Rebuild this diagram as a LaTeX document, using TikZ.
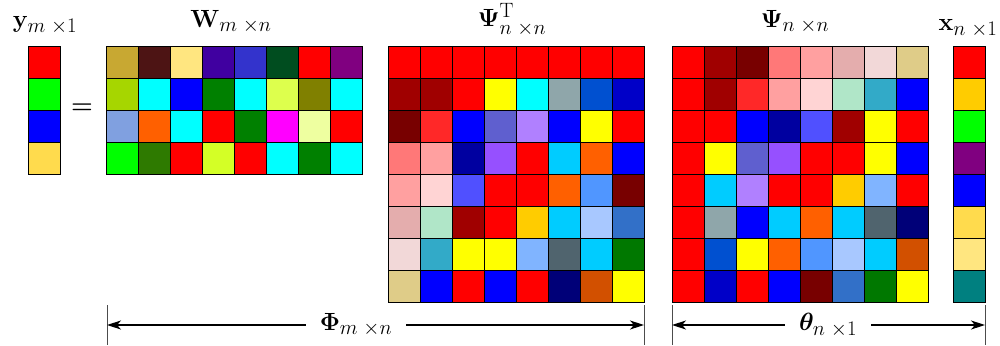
\documentclass[tikz,border=0pt]{standalone}
\usepackage{amsmath}
\usepackage{amsfonts, amssymb}
\usepackage{bm}
\usepackage{tikz}
\usetikzlibrary{arrows.meta, calc}

\tikzset{
  cell/.style={draw=black, line width=0.9pt},
  lbl/.style={font=\Huge, anchor=base, inner sep=0pt},
  dimarrow/.style={-{Stealth[length=14pt, width=9pt, inset=4pt]}, line width=1.1pt},
  tick/.style={line width=0.8pt, black!70}
}

% fill a cell with a hex colour
\newcommand{\hexcell}[3]{%
  \edef\tmpdef{\noexpand\definecolor{cellc}{HTML}{#3}}\tmpdef
  \filldraw[cell, fill=cellc] (#1,#2) rectangle ++(32,32);
}

\begin{document}
\begin{tikzpicture}[x=1pt, y=-1pt]
    \useasboundingbox (0,0) rectangle (1000,345);

    % Measurement vector y
    \foreach \c [count=\i from 0] in {FF0000,00FF00,0000FF,FFDB4D} {
      \hexcell{28}{46+32*\i}{\c}
    }
    \node[lbl] (ylab) at (45,28) {$\mathbf{y}_{m\;\times 1}$};

    % Equals sign
    \node[font=\Huge] (eq) at (82,109) {$\bm{=}$};

    % Sensing matrix W
    \foreach \row [count=\i from 0] in {
      {C8A832,4D1414,FFE680,4000A0,3333CC,004D1F,FF0000,800080},
      {A6D600,00FFFF,0000FF,008000,00FFFF,DDFF4D,808000,00FFFF},
      {80A0E0,FF6000,00FFFF,FF0000,008000,FF00FF,EEFFA0,FF0000},
      {00FF00,2E7A00,FF0000,D4FF26,FF0000,00FFFF,008000,00FFFF}} {
      \foreach \c [count=\j from 0] in \row {
        \hexcell{106+32*\j}{46+32*\i}{\c}
      }
    }
    \node[lbl] (wlab) at (231,28) {$\mathbf{W}_{m\;\times n}$};

    % Basis Psi^T (left) and its transpose Psi (right)
    \foreach \row [count=\i from 0] in {
      {FF0000,FF0000,FF0000,FF0000,FF0000,FF0000,FF0000,FF0000},
      {A00000,A00000,FF0000,FFFF00,00FFFF,8FA6AA,0050D0,0000C8},
      {780000,FF2828,0000FF,5F5FCF,B080FF,0000FF,FFFF00,FF0000},
      {FF7878,FFA0A0,0000A0,9650FF,FF0000,00CCFF,FF6000,0000FF},
      {FFA0A0,FFD4D4,5050FF,FF0000,FF0000,FF6000,5096FF,780000},
      {E4ADAD,B0E6C8,A00000,FF0000,FFCC00,00CCFF,A8C8FF,3270C8},
      {F2D8D8,32AAC8,FFFF00,FFFF00,80B4FF,50646E,00CCFF,007800},
      {DFCC88,0000FF,FF0000,0000FF,FF0000,000078,D25000,FFFF00}} {
      \foreach \c [count=\j from 0] in \row {
        \hexcell{388+32*\j}{46+32*\i}{\c}
        \hexcell{672+32*\i}{46+32*\j}{\c}
      }
    }
    % one cell of Psi differs from the transpose
    \hexcell{704}{174}{00CCFF}
    \node[lbl] (ptlab) at (512,27) {$\bm{\Psi}^{\mathrm{T}}_{n\;\times n}$};
    \node[lbl] (plab) at (795,28) {$\bm{\Psi}_{n\;\times n}$};

    % Sparse vector x
    \foreach \c [count=\i from 0] in {FF0000,FFCC00,00FF00,800080,0000FF,FFDB4D,FFE680,008080} {
      \hexcell{953}{46+32*\i}{\c}
    }
    \node[lbl] (xlab) at (968,31) {$\mathbf{x}_{n\;\times 1}$};

    % Dimension arrows
    \coordinate (phiL) at (107,325);
    \coordinate (phiR) at (644,325);
    \coordinate (thL) at (672,325);
    \coordinate (thR) at (985,325);
    \foreach \p in {phiL, phiR, thL, thR} {
      \draw[tick] ($(\p)+(0,-20)$) -- ($(\p)+(0,20)$);
    }
    \node[lbl, anchor=center, inner xsep=14pt] (philab) at (356,325) {$\bm{\Phi}_{m\;\times n}$};
    \draw[dimarrow] (philab.west) -- (phiL);
    \draw[dimarrow] (philab.east) -- (phiR);
    \node[lbl, anchor=center, inner xsep=14pt] (thlab) at (828,325) {$\bm{\theta}_{n\;\times 1}$};
    \draw[dimarrow] (thlab.west) -- (thL);
    \draw[dimarrow] (thlab.east) -- (thR);

\end{tikzpicture}
\end{document}
